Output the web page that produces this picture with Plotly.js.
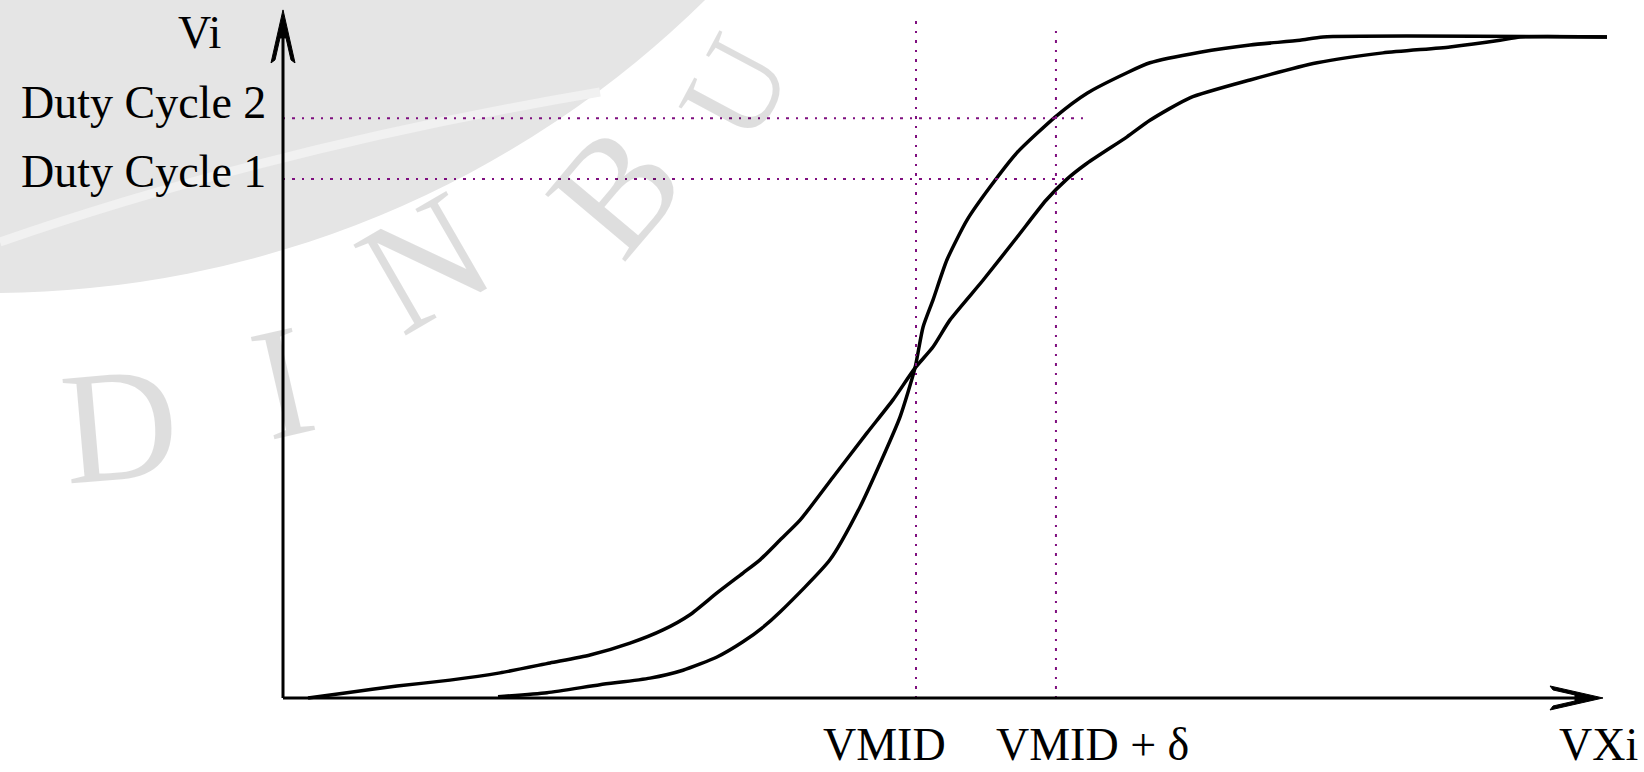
<!DOCTYPE html>
<html>
<head>
<meta charset="utf-8">
<script src="https://cdn.plot.ly/plotly-3.0.1.min.js"></script>
<style>
html,body{margin:0;padding:0;background:#ffffff;}
#chart{width:1644px;height:772px;}
</style>
</head>
<body>
<div id="chart"></div>
<script>
// ---------- data ----------
// curve 1: the gentler transfer curve
const curve1X = [0.189, 0.483, 0.861, 1.261, 1.639, 2.017, 2.319, 2.621, 2.870, 3.074, 3.278, 3.474, 3.603, 3.754, 3.905, 4.154, 4.411, 4.607, 4.773, 4.909, 5.038, 5.287, 5.544, 5.763, 5.921, 6.073, 6.375, 6.548, 6.850, 7.304, 7.810, 8.308, 8.814, 9.192, 9.343, 10.0];
const curve1Y = [0.000, 0.008, 0.018, 0.027, 0.038, 0.053, 0.065, 0.083, 0.103, 0.126, 0.159, 0.189, 0.209, 0.239, 0.269, 0.334, 0.401, 0.451, 0.499, 0.531, 0.572, 0.632, 0.697, 0.753, 0.785, 0.809, 0.849, 0.874, 0.908, 0.935, 0.961, 0.976, 0.985, 0.995, 1.000, 1.000];
// curve 2: the steeper transfer curve
const curve2X = [1.624, 1.994, 2.394, 2.772, 3.021, 3.278, 3.474, 3.625, 3.754, 4.131, 4.358, 4.532, 4.660, 4.773, 4.834, 4.909, 5.015, 5.166, 5.340, 5.544, 5.838, 6.073, 6.375, 6.548, 6.926, 7.304, 7.681, 7.855, 10.0];
const curve2Y = [0.002, 0.008, 0.020, 0.030, 0.042, 0.062, 0.085, 0.107, 0.130, 0.209, 0.289, 0.365, 0.425, 0.499, 0.561, 0.602, 0.663, 0.723, 0.773, 0.825, 0.880, 0.915, 0.946, 0.961, 0.977, 0.988, 0.995, 1.000, 1.000];

const thresholdX = [4.781, 5.838];
const thresholdLabels = ['VMID', 'VMID + \u03b4'];
const dutyY = [0.785, 0.877];
const dutyLabels = ['Duty Cycle 1', 'Duty Cycle 2'];
const axisNames = ['VXi', 'Vi'];
const watermarkLetters = ['D', 'I', 'N', 'B', 'U'];

// ---------- layout helpers ----------
const W = 1644, H = 772;
const px = v => v / W;
const py = v => 1 - v / H;
const X_RANGE = [-2.1375, 10.2795];
const Y_RANGE = [-0.112, 1.056];
const X_TIP = 9.97, Y_TIP = 1.041;
const DOT = '#7f0f7f';
const SERIF = '"Liberation Serif", "DejaVu Serif", serif';

const shapes = [];
// watermark disk and band
shapes.push({type:'circle', xref:'paper', yref:'paper', layer:'below',
  x0: px(-1029), x1: px(1009), y0: py(293), y1: py(-1745),
  fillcolor:'#e5e5e5', line:{width:0}});
shapes.push({type:'path', xref:'paper', yref:'paper', layer:'below',
  path:`M ${px(0)},${py(242)} Q ${px(270)},${py(148)} ${px(600)},${py(92)}`,
  line:{color:'#f1f1f1', width:9}});

// dotted guide lines
const dutyXEnd = 6.042;
dutyY.forEach(y => shapes.push({type:'line', xref:'x', yref:'y', layer:'above',
  x0:0, x1:dutyXEnd, y0:y, y1:y, line:{color:DOT, width:2, dash:'2px,7px,3px,7px'}}));
const threshTop = [1.026, 1.011];
thresholdX.forEach((x, i) => shapes.push({type:'line', xref:'x', yref:'y', layer:'above',
  x0:x, x1:x, y0:0, y1:threshTop[i], line:{color:DOT, width:2, dash:'2px,7px,3px,7px'}}));

// axes
shapes.push({type:'line', xref:'x', yref:'y', layer:'above', x0:0, x1:X_TIP - 0.15, y0:0, y1:0, line:{color:'#000', width:3}});
shapes.push({type:'line', xref:'x', yref:'y', layer:'above', x0:0, x1:0, y0:0, y1:Y_TIP - 0.03, line:{color:'#000', width:3}});
shapes.push({type:'path', xref:'x', yref:'y', layer:'above', xsizemode:'pixel', ysizemode:'pixel',
  xanchor:X_TIP, yanchor:0,
  path:'M0,0 L-53,12 L-50,8 L-28,3 L-28,-3 L-50,-8 L-53,-12 Z',
  fillcolor:'#000', line:{color:'#000', width:1}});
shapes.push({type:'path', xref:'x', yref:'y', layer:'above', xsizemode:'pixel', ysizemode:'pixel',
  xanchor:0, yanchor:Y_TIP,
  path:'M0,0 L12,-53 L8,-50 L3,-28 L-3,-28 L-8,-50 L-12,-53 Z',
  fillcolor:'#000', line:{color:'#000', width:1}});

const annotations = [];
// watermark letters
const wmPos = [[120,425,-5,160],[282,382,-13,160],[425,262,-30,160],[615,190,-50,160],[735,88,-62,128]];
watermarkLetters.forEach((t, i) => annotations.push({text:t, xref:'paper', yref:'paper',
  x:px(wmPos[i][0]), y:py(wmPos[i][1]), xanchor:'center', yanchor:'middle', showarrow:false,
  textangle:wmPos[i][2], font:{family:SERIF, size:wmPos[i][3], color:'rgba(0,0,0,0.13)'}}));

const LBL = {family:SERIF, size:46, color:'#000'};
// axis names
annotations.push({text:axisNames[1], xref:'paper', yref:'paper', x:px(199), y:py(32),
  xanchor:'center', yanchor:'middle', showarrow:false, font:LBL});
annotations.push({text:axisNames[0], xref:'paper', yref:'paper', x:px(1598), y:0,
  xanchor:'center', yanchor:'bottom', showarrow:false, font:LBL});
// duty cycle labels
const dutyLabelY = [171, 102];
dutyLabels.forEach((t, i) => annotations.push({text:t, xref:'paper', yref:'paper',
  x:px(268), y:py(dutyLabelY[i]), xanchor:'right', yanchor:'middle', showarrow:false, font:LBL}));
// threshold labels
const threshLabelShift = [-32, 37];
thresholdLabels.forEach((t, i) => annotations.push({text:t, xref:'x', yref:'paper',
  x:thresholdX[i], xshift:threshLabelShift[i], y:0, xanchor:'center', yanchor:'bottom',
  showarrow:false, font:LBL}));

const traces = [
  {x:curve1X, y:curve1Y, mode:'lines', line:{color:'#000', width:3.5, shape:'spline', smoothing:0.6}, hoverinfo:'skip'},
  {x:curve2X, y:curve2Y, mode:'lines', line:{color:'#000', width:3.5, shape:'spline', smoothing:0.6}, hoverinfo:'skip'}
];

const layout = {
  width:W, height:H, autosize:false,
  margin:{l:0, r:0, t:0, b:0, pad:0},
  paper_bgcolor:'#ffffff', plot_bgcolor:'#ffffff',
  showlegend:false,
  xaxis:{range:X_RANGE, visible:false, fixedrange:true},
  yaxis:{range:Y_RANGE, visible:false, fixedrange:true},
  shapes:shapes, annotations:annotations
};

Plotly.newPlot('chart', traces, layout, {displayModeBar:false, staticPlot:true});
</script>
</body>
</html>
